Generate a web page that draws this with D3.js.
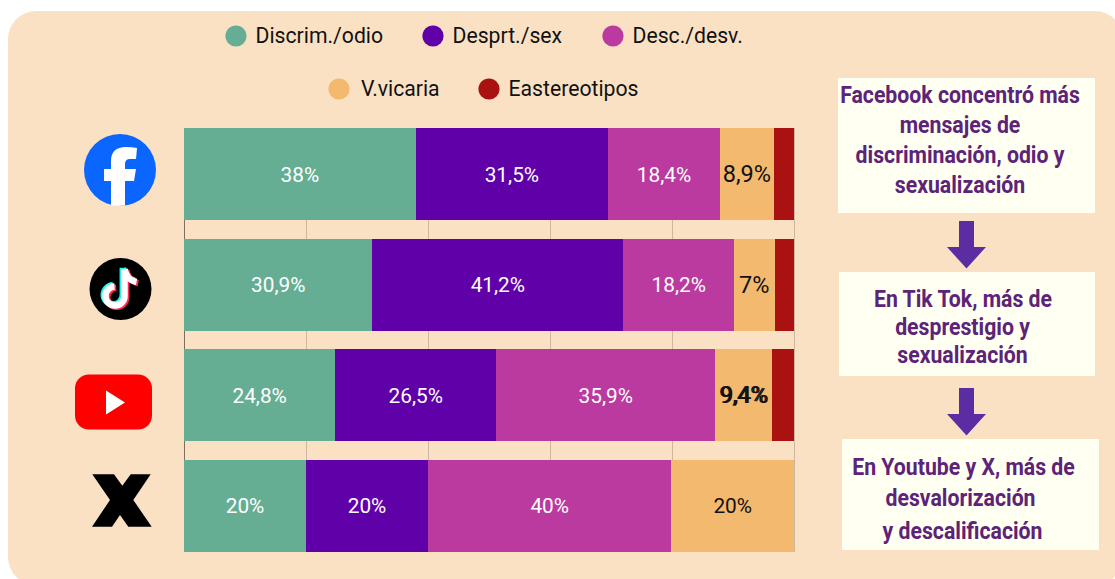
<!DOCTYPE html>
<html lang="es">
<head>
<meta charset="utf-8">
<script src="https://cdn.jsdelivr.net/npm/d3@7"></script>
<style>
html,body{margin:0;padding:0;background:#fff;overflow:hidden}
svg{display:block}
text{font-family:Roboto,sans-serif}
</style>
</head>
<body>
<div id="chart"></div>
<script>
const platforms = ["Facebook","TikTok","YouTube","X"];
const seriesNames = ["Discrim./odio","Desprt./sex","Desc./desv.","V.vicaria","Eastereotipos"];
const seriesColors = ["#66AE93","#6000A8","#BA3A9F","#F3B96F","#AA1111"];
const labelColors = ["#fff","#fff","#fff","#111","#fff"];
const discrim = [38,30.9,24.8,20];
const desprt = [31.5,41.1,26.4,20];
const desc = [18.4,18.2,35.9,39.9];
const vicaria = [8.9,6.7,9.3,20.1];
const estereo = [3.2,3.1,3.6,0];
const discrimLabels = ["38%","30,9%","24,8%","20%"];
const desprtLabels = ["31,5%","41,2%","26,5%","20%"];
const descLabels = ["18,4%","18,2%","35,9%","40%"];
const vicariaLabels = ["8,9%","7%","9,4%","20%"];
const ticks = [0,20,40,60,80,100];
const notes = [
  ["Facebook concentró más","mensajes de","discriminación, odio y","sexualización"],
  ["En Tik Tok, más de","desprestigio y","sexualización"],
  ["En Youtube y X, más de","desvalorización","y descalificación"]
];

const W=1115,H=579;
const svg=d3.select("#chart").append("svg").attr("width",W).attr("height",H);
svg.append("rect").attr("x",8).attr("y",11).attr("width",1115).attr("height",574).attr("rx",28).attr("fill","#FBE1C3");

const x=d3.scaleLinear().domain([0,100]).range([184,794]);
const y=d3.scaleBand().domain(platforms).range([128,552]).paddingInner(0.163).paddingOuter(0);
const color=d3.scaleOrdinal().domain(seriesNames).range(seriesColors);

const axis=svg.append("g").attr("transform","translate(0,128)")
  .call(d3.axisBottom(x).tickValues(ticks).tickSize(424).tickFormat(""));
axis.select(".domain").remove();
axis.selectAll("line").attr("stroke",d=>d===0?"#7D6E5D":"#CDB79E");

const values=[discrim,desprt,desc,vicaria,estereo];
const rows=platforms.map((p,i)=>{const o={platform:p};seriesNames.forEach((s,j)=>o[s]=values[j][i]);return o;});
const stacked=d3.stack().keys(seriesNames)(rows);
const labels=[discrimLabels,desprtLabels,descLabels,vicariaLabels];
svg.append("g").selectAll("g").data(stacked).join("g")
  .attr("fill",d=>color(d.key))
  .selectAll("rect").data(d=>d).join("rect")
  .attr("shape-rendering","crispEdges")
  .attr("x",d=>x(d[0])).attr("width",d=>x(d[1])-x(d[0]))
  .attr("y",d=>y(d.data.platform)).attr("height",y.bandwidth());

const lab=svg.append("g").attr("text-anchor","middle");
function putLabel(d,txt,fill,size,dx){
  lab.append("text").attr("x",(x(d[0])+x(d[1]))/2+dx).attr("y",y(d.data.platform)+y.bandwidth()/2)
    .attr("dy","0.35em").attr("fill",fill).attr("font-size",size).text(txt);
}
stacked.forEach((s,j)=>{
  if(!labels[j])return;
  s.forEach((d,i)=>{
    const big=j===3&&i<3;
    putLabel(d,labels[j][i],labelColors[j],big?23.5:20.8,big?-0.5:0);
  });
});
// the source prints the YouTube V.vicaria label twice, slightly offset
putLabel(stacked[3][2],vicariaLabels[2],"#111",23.5,1);

const legendPos=[[236,36],[433,36],[613,36],[339,89],[489,89]];
const lg=svg.append("g").selectAll("g").data(seriesNames).join("g")
  .attr("transform",(d,i)=>`translate(${legendPos[i]})`);
lg.append("circle").attr("r",10.6).attr("fill",d=>color(d));
lg.append("text").attr("x",(d,i)=>i===3?22:19.5).attr("dy","0.35em").attr("font-size",21.2).attr("fill","#111").text(d=>d);

const fb=svg.append("g").attr("transform","translate(120,170)");
fb.append("circle").attr("r",36).attr("fill","#0A66FF");
fb.append("path").attr("fill","#fff").attr("d","M-9,35.6V11H-16V-1H-9V-9Q-9,-23 6,-23Q12,-23 17,-22L16,-11H10Q5,-11 5,-6V-1H16L14,11H5V35.6Q-2,36.3 -9,35.6Z");

const tt=svg.append("g").attr("transform","translate(120.5,289)");
tt.append("circle").attr("r",31).attr("fill","#000");
const note="M4,-20V7A9.5,9.5 0 1 1 -6,-2.5M4,-20Q6,-9 16,-7";
[["#25F4EE",-1.7,-1.2],["#FE2C55",1.7,1.2],["#fff",0,0]].forEach(([c,dx,dy])=>{
  tt.append("path").attr("d",note).attr("fill","none").attr("stroke",c).attr("stroke-width",6.5)
    .attr("transform",`translate(${dx},${dy})`);
});

const yt=svg.append("g").attr("transform","translate(113.5,402)");
yt.append("rect").attr("x",-38.5).attr("y",-27.5).attr("width",77).attr("height",55).attr("rx",14).attr("fill","#FF0000");
yt.append("path").attr("fill","#fff").attr("d","M-7.5,-11.5L11.5,0.5L-7.5,12.5Z");

svg.append("g").attr("transform","translate(122,500.5)").append("path").attr("fill","#000")
  .attr("d","M-29.7,-26.2H-8L0.3,-14.8L8.7,-26.2H28.7L11.3,-0.5L29.7,26.2H6.3L-2,14.5L-10,26.2H-30L-12,-0.5Z");

const boxes=[
 {x:838,y:78,w:257,h:135,cx:[960,960,960,960],lines:[95,125,155,185]},
 {x:839,y:272,w:256,h:104,cx:[963,962.5,962.5],lines:[299,327,355]},
 {x:842,y:439,w:257,h:111,cx:[963.5,960.5,962.5],lines:[467,498,531]}
];
const nb=svg.append("g");
boxes.forEach((b,i)=>{
  nb.append("rect").attr("x",b.x).attr("y",b.y).attr("width",b.w).attr("height",b.h).attr("fill","#FFFFF2");
  notes[i].forEach((t,k)=>{
    nb.append("text").attr("transform",`translate(${b.cx[k]},${b.lines[k]}) scale(0.885,1)`)
      .attr("text-anchor","middle").attr("dy","0.35em").attr("font-size",24).attr("font-weight",700)
      .attr("fill","#5C2378").text(t);
  });
});
[[221],[388]].forEach(([t])=>{
  svg.append("path").attr("fill","#5B2DA3").attr("transform",`translate(966.5,${t})`)
    .attr("d","M-7.5,0H7.5V26H19.5L0,47.5L-19.5,26H-7.5Z");
});
</script>
</body>
</html>
